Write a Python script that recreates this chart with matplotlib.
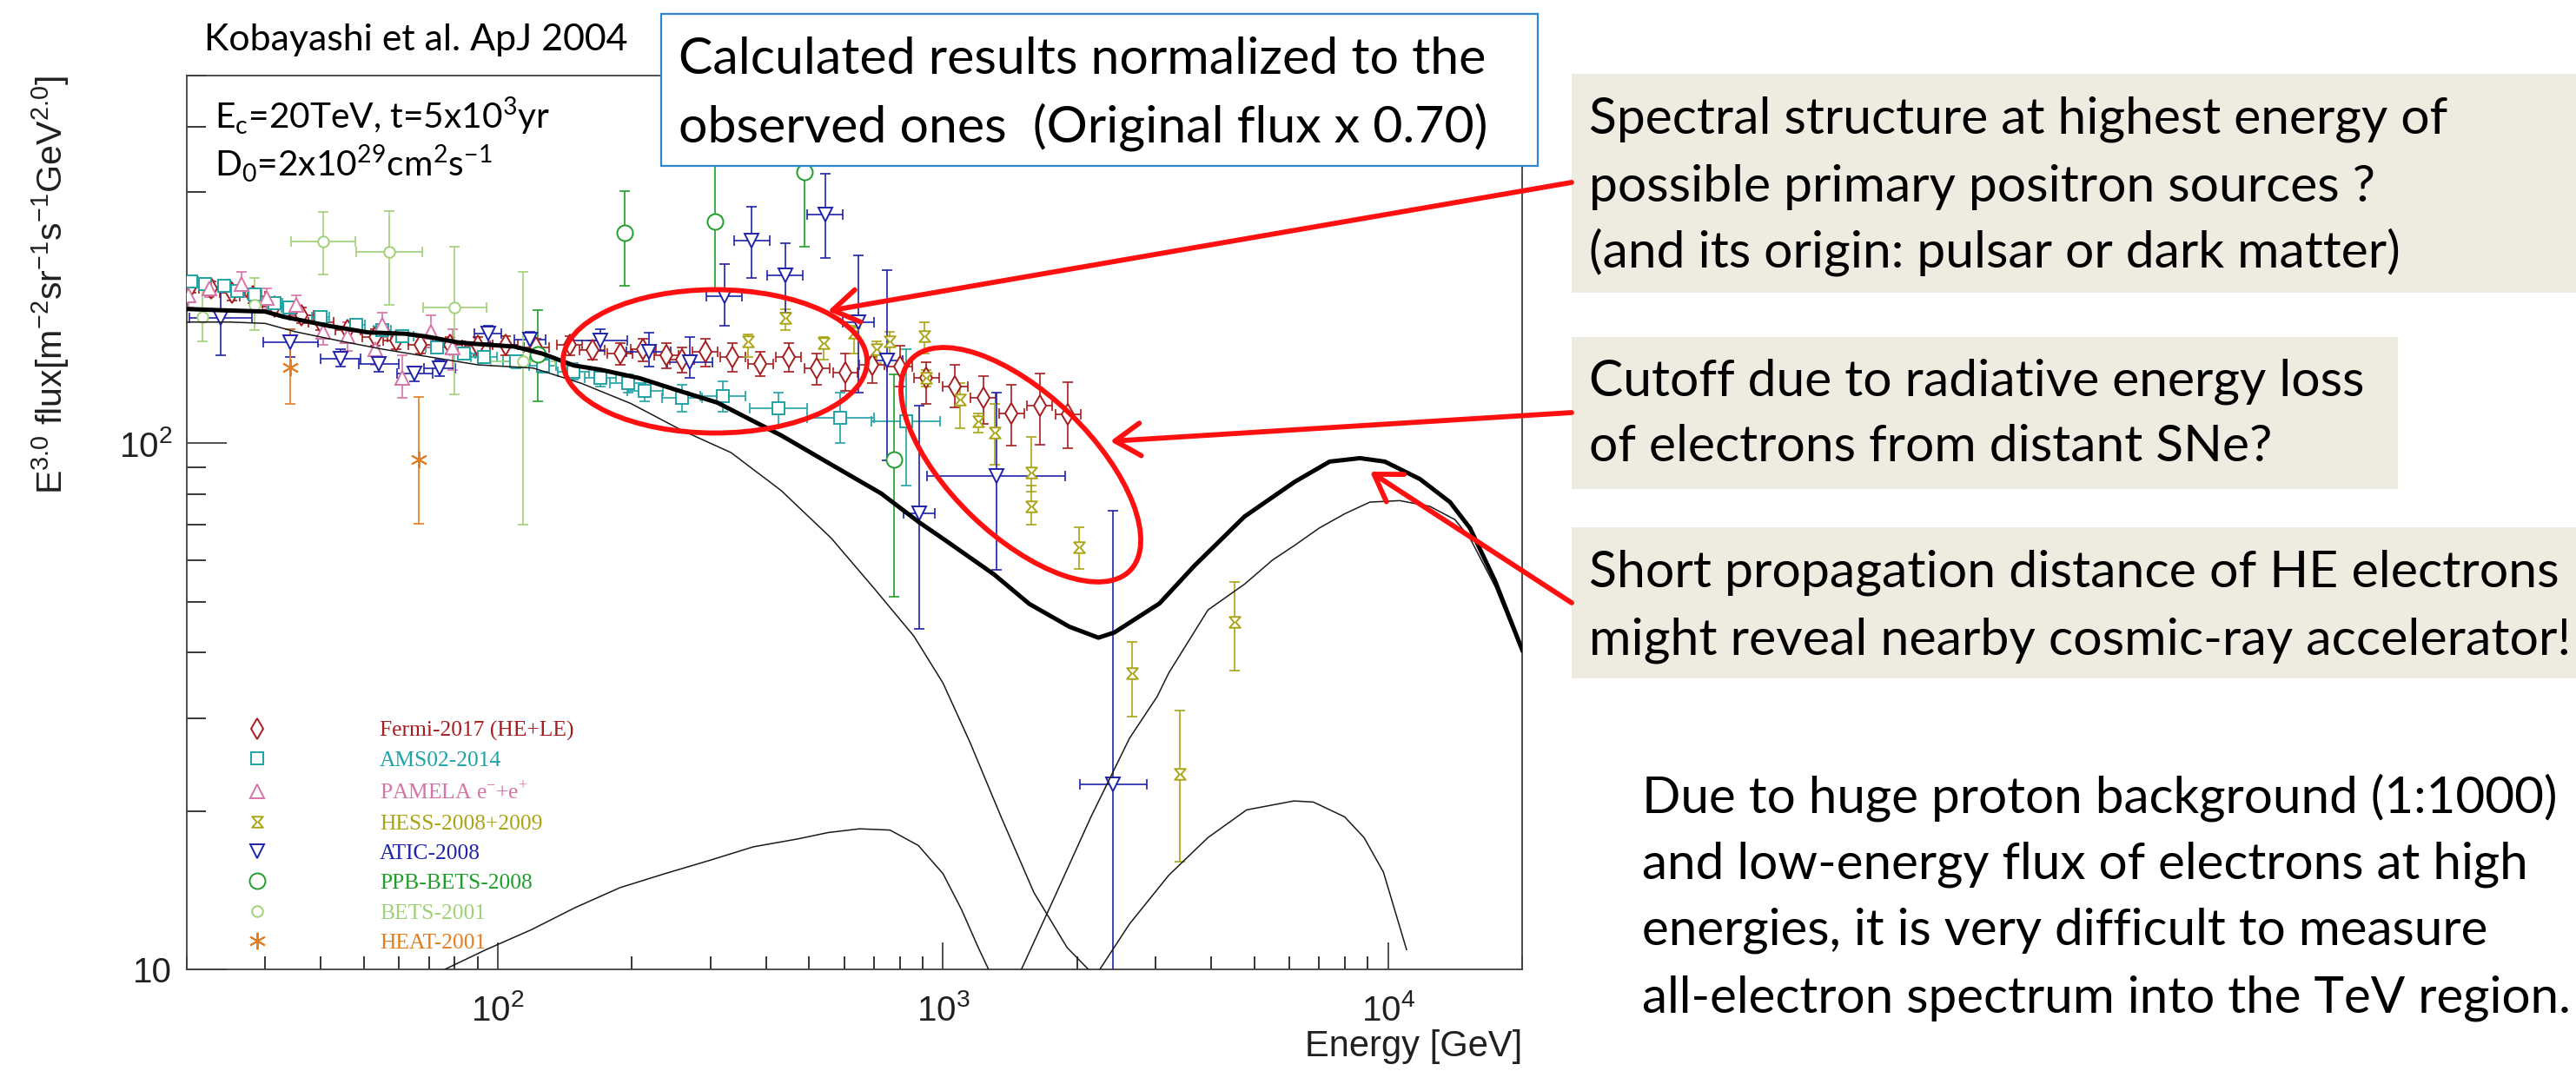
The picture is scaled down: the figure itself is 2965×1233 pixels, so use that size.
import numpy as np
import matplotlib
matplotlib.use("Agg")
import matplotlib.pyplot as plt
from matplotlib.lines import Line2D
from matplotlib.patches import Ellipse, Rectangle
from matplotlib.path import Path
from matplotlib.ticker import FixedLocator, LogLocator, NullFormatter

# ---- model curves: E^3 x flux [m^-2 sr^-1 s^-1 GeV^2], normalized x0.70 ----
total_e = [20, 24, 30, 33, 42, 51, 62, 69, 81, 89, 109, 126, 148, 170, 208, 254, 311,
           433, 561, 726, 883, 1007, 1303, 1563, 1923, 2234, 2427, 3063, 3670, 4760,
           6170, 7390, 8640, 9830, 11790, 13770, 15270, 17380, 20000]
total_y = [180, 179, 178, 174, 167, 162.5, 161.5, 159.6, 155.6, 154.5, 152.7, 148, 140.6,
           138, 133, 126, 119.5, 103.5, 91.1, 80.3, 70.8, 65.6, 56.3, 49.5, 44.8, 42.7,
           43.7, 49.6, 58.5, 72.6, 84.5, 92.3, 93.7, 92.3, 85.5, 77.3, 69, 54.8, 40.5]

distant_e = [20, 25, 30, 35, 45, 55, 70, 90, 120, 154, 199, 258, 334, 433, 561, 700,
             860, 1000, 1150, 1350, 1600, 1900, 2250]
distant_y = [170, 170, 169, 163, 156, 151, 146, 141, 139, 130, 119, 106, 96, 81.3, 66,
             53, 43, 35, 27, 19.5, 14, 11, 9.5]

low_src_e = [76, 94, 119, 149, 188, 237, 298, 375, 472, 552, 650, 760, 880, 1000, 1100,
             1200, 1280]
low_src_y = [10, 10.9, 11.9, 13.1, 14.3, 15.2, 16.1, 17.1, 17.7, 18.2, 18.5, 18.4, 17.2,
             15.2, 13, 11, 9.8]

near_src_e = [1500, 1800, 2150, 2624, 3027, 3215, 3936, 4760, 5500, 6170, 7000, 8000,
              9100, 10620, 12400, 14130, 15270, 17380, 20000]
near_src_y = [10, 14, 19.5, 27.5, 33, 36.6, 48.2, 54, 60, 64, 69, 73.5, 77.3, 77.8,
              75.9, 71.6, 66, 53.5, 40]

mid_src_e = [2250, 2624, 3215, 3936, 4810, 6140, 6790, 7980, 8830, 9760, 11000]
mid_src_y = [10, 12.2, 15.1, 17.8, 20.1, 20.9, 20.8, 19.5, 17.8, 15.3, 10.9]

# ---- measurements ----
fermi_e = [20.5, 22.7, 25.3, 28.1, 31.5, 36.2, 40, 46, 53, 59, 67, 78, 90, 104, 122, 145,
           163, 188, 212, 239, 259, 292, 337, 389, 450, 521, 603, 692, 800, 918, 1064,
           1231, 1425, 1648, 1908]
fermi_y = [199, 197, 193, 190.6, 182, 175, 170, 164, 159, 156.6, 153.6, 153.6, 153, 153.6,
           152, 153.6, 150.6, 148, 150.7, 147, 144, 149, 146, 141.6, 146, 139, 136.4, 141,
           140, 133, 128, 122, 114, 118, 113.5]
fermi_lo = [193, 191, 187, 185, 176, 169, 164, 158, 153, 151, 148, 148, 147, 147, 146, 147,
            144, 141, 143, 139, 136, 140, 137, 134, 137, 129, 126, 130, 128, 119, 117, 109,
            99, 99.3, 98]
fermi_hi = [205, 203, 199, 196, 188, 181, 176, 170, 165, 162, 159, 159, 159, 160, 158, 160,
            157, 155, 158, 155, 152, 158, 155, 149, 155, 148, 148, 146, 153, 142.6, 141,
            134, 129, 135.5, 130.6]
fermi_xw = 0.028

ams_e = [20.5, 22, 24.3, 26, 28.4, 31.5, 34, 40, 48, 55, 61, 73, 84, 93, 110, 126, 148,
         170, 196, 214, 259, 320, 427, 588, 825]
ams_y = [203, 201, 199, 195, 191.6, 184.5, 181, 174, 168, 164, 160, 152, 148, 146, 143,
         140.6, 137, 133, 130, 126, 122, 123, 116.4, 112, 110]
ams_lo = [199, 197, 195, 191, 188, 181, 177, 170, 164, 160, 156, 148, 144, 142, 139, 136,
          132, 128, 125, 120, 115, 115, 108, 100, 83]
ams_hi = [207, 205, 203, 199, 195, 188, 185, 178, 172, 168, 164, 156, 152, 150, 147, 145,
          142, 138, 135, 132, 129, 131, 125, 125, 151]
ams_xw = [0.015, 0.015, 0.015, 0.015, 0.015, 0.017, 0.017, 0.02, 0.02, 0.02, 0.025, 0.025,
          0.025, 0.03, 0.03, 0.03, 0.035, 0.035, 0.04, 0.04, 0.045, 0.05, 0.064, 0.075,
          0.077]

pamela_e = [20.2, 22.5, 26.5, 30.3, 35.2, 40.5, 46, 53, 55, 61, 70.6, 79]
pamela_y = [191, 197, 201, 189, 183, 163, 160, 151, 168, 133, 163, 152]
pamela_lo = [181, 190, 190, 180, 175, 154, 150, 141, 159, 122, 152, 138]
pamela_hi = [200, 204, 212, 197, 191, 172, 170, 162, 177, 147, 175, 165]

hess_e = [365, 443, 540, 630, 710, 760, 910, 918, 1090, 1198, 1305, 1575, 1575, 2024,
          2655, 3410, 4515]
hess_y = [156, 173, 155, 162, 151, 156, 160, 133, 121, 110, 105, 88, 76, 63.5, 36.6,
          23.5, 45.7]
hess_lo = [146, 164, 144, 148, 142, 148, 148, 128, 107, 105, 91, 81, 70, 57.7, 30.2, 16,
           37]
hess_hi = [161, 180, 159, 167, 156, 163, 170, 138, 130, 114, 119, 103, 83, 69.3, 42, 31,
           54.6]

atic_e = [23.8, 34.2, 44.3, 54, 65, 74, 95, 118, 170, 218, 270, 323, 372, 442, 544, 646,
          748, 883, 1318, 2410]
atic_y = [173, 155.6, 145, 141.6, 135.5, 139, 161.6, 157.4, 156.6, 149, 142.5, 190.5, 243,
          208.6, 272, 170, 143.6, 73.5, 86.5, 22.5]
atic_lo = [147, 146, 140, 137, 131, 134, 155, 151, 150, 140, 133, 167, 206, 177, 225, 125,
           92.7, 44.3, 57.4, 5]
atic_hi = [197, 165, 151, 146, 140, 144, 167, 163, 165, 162, 159, 219, 282, 240, 325, 228,
           213, 118, 125, 74.5]
atic_xw = [0.07, 0.062, 0.045, 0.045, 0.04, 0.035, 0.03, 0.035, 0.06, 0.05, 0.05, 0.04,
           0.04, 0.04, 0.04, 0.035, 0.035, 0.035, 0.155, 0.075]

ppb_e = [123, 193, 308, 488, 775]
ppb_y = [147.5, 251, 264, 328, 93]
ppb_lo = [120, 199, 195, 236, 51]
ppb_hi = [179, 302, 345, 345, 135]

bets_e = [21.7, 28.4, 40.5, 57, 80, 114]
bets_y = [174, 183, 242, 231.5, 181, 143]
bets_lo = [156, 164, 209.5, 183, 124, 70]
bets_hi = [206, 206, 275, 276, 236, 212]
bets_xw = [0, 0, 0.073, 0.074, 0.072, 0.072]

heat_e = [34.1, 66.5]
heat_y = [139.5, 93]
heat_lo = [119, 70.4]
heat_hi = [165, 122.7]

legend_labels = ["Fermi-2017 (HE+LE)", "AMS02-2014",
                 r"PAMELA e$^{\mathregular{-}}$+e$^{\mathregular{+}}$",
                 "HESS-2008+2009", "ATIC-2008", "PPB-BETS-2008", "BETS-2001", "HEAT-2001"]

# ---- styling ----
W, H = 2965, 1233
ROOT_FONT = "Liberation Sans"
SERIF = "Liberation Serif"
SLIDE = "Lato"
plt.rcParams["font.family"] = [ROOT_FONT, "DejaVu Sans"]

C_FERMI, C_AMS, C_PAM = "#a51d1d", "#1fa3a6", "#d873a8"
C_HESS, C_ATIC, C_PPB = "#aaa414", "#1f22aa", "#1f9e2a"
C_BETS, C_HEAT = "#9fd178", "#e47d1f"
HOURGLASS = Path([(-1, 1), (1, 1), (0.15, 0), (1, -1), (-1, -1), (-0.15, 0), (-1, 1)],
                 closed=True)

fig = plt.figure(figsize=(W / 100, H / 100), dpi=100, facecolor="white")
renderer = fig.canvas.get_renderer()


def rect_px(x0, y0, x1, y1):
    return [x0 / W, 1 - y1 / H, (x1 - x0) / W, (y1 - y0) / H]


def fit(t, width, vertical=False):
    bb = t.get_window_extent(renderer)
    t.set_fontsize(t.get_fontsize() * width / (bb.height if vertical else bb.width))


ax = fig.add_axes(rect_px(215, 87, 1752, 1116))
ax.set_xscale("log")
ax.set_yscale("log")
ax.set_xlim(20, 20000)
ax.set_ylim(10, 500)


def draw_set(e, y, lo, hi, xw, color, marker, ms):
    e = np.asarray(e, float)
    y = np.asarray(y, float)
    w = np.broadcast_to(np.asarray(xw, float), e.shape)
    yerr = [y - np.asarray(lo, float), np.asarray(hi, float) - y]
    xerr = [e - e / 10 ** w, e * 10 ** w - e]
    ax.errorbar(e, y, yerr=yerr, xerr=xerr, fmt="none", ecolor=color, elinewidth=1.2,
                capsize=4, capthick=1.2, zorder=3)
    ax.plot(e, y, ls="none", marker=marker, ms=ms, mfc="white", mec=color, mew=1.4,
            zorder=3.1)


sets = [
    (fermi_e, fermi_y, fermi_lo, fermi_hi, fermi_xw, C_FERMI, "d", 12),
    (ams_e, ams_y, ams_lo, ams_hi, ams_xw, C_AMS, "s", 10),
    (pamela_e, pamela_y, pamela_lo, pamela_hi, 0, C_PAM, "^", 11),
    (hess_e, hess_y, hess_lo, hess_hi, 0, C_HESS, HOURGLASS, 9),
    (atic_e, atic_y, atic_lo, atic_hi, atic_xw, C_ATIC, "v", 11),
    (ppb_e, ppb_y, ppb_lo, ppb_hi, 0, C_PPB, "o", 13),
    (bets_e, bets_y, bets_lo, bets_hi, bets_xw, C_BETS, "o", 9),
    (heat_e, heat_y, heat_lo, heat_hi, 0, C_HEAT, (6, 2, 0), 14),
]
for s in sets:
    draw_set(*s)

for ce, cy in [(distant_e, distant_y), (low_src_e, low_src_y),
               (near_src_e, near_src_y), (mid_src_e, mid_src_y)]:
    ax.plot(ce, cy, color="#1a1a1a", lw=1.1, zorder=4)
ax.plot(total_e, total_y, color="black", lw=3.6, zorder=5)

# axes, ticks
for sp in ax.spines.values():
    sp.set_color("#404040")
    sp.set_linewidth(1.3)
ax.xaxis.set_major_locator(FixedLocator([100, 1000, 10000]))
ax.set_xticklabels([r"$\mathregular{10^{2}}$", r"$\mathregular{10^{3}}$",
                    r"$\mathregular{10^{4}}$"])
ax.xaxis.set_minor_locator(LogLocator(base=10, subs=np.arange(2, 10)))
ax.xaxis.set_minor_formatter(NullFormatter())
ax.yaxis.set_major_locator(FixedLocator([10, 100]))
ax.set_yticklabels(["10", r"$\mathregular{10^{2}}$"])
ax.yaxis.set_minor_locator(LogLocator(base=10, subs=np.arange(2, 10)))
ax.yaxis.set_minor_formatter(NullFormatter())
ax.tick_params(axis="x", which="major", direction="in", length=22, width=1.1, pad=20,
               labelsize=29, colors="#202020")
ax.tick_params(axis="x", which="minor", direction="in", length=11, width=1.1)
ax.tick_params(axis="y", which="major", direction="in", length=33, width=1.1, pad=12,
               labelsize=29, colors="#202020")
ax.tick_params(axis="y", which="minor", direction="in", length=16, width=1.1)

xt = fig.text(1752 / W, 1 - 1205 / H, "Energy [GeV]", ha="right", va="center",
              family=ROOT_FONT, fontsize=30, color="#202020")
fit(xt, 250)
yt = fig.text(58 / W, 1 - 87 / H,
              r"E$^{\mathregular{3.0}}$ flux[m$^{\mathregular{-2}}$sr$^{\mathregular{-1}}$"
              r"s$^{\mathregular{-1}}$GeV$^{\mathregular{2.0}}$]",
              rotation=90, ha="center", va="top", family=ROOT_FONT, fontsize=30,
              color="#202020")
fit(yt, 482, vertical=True)

# legend: markers near 29 GeV, labels from 54 GeV, rows from y=28.4 down to y=11.2
probe = fig.text(0, 0, legend_labels[0], family=SERIF, fontsize=20)
lsize = 20 * 224 / probe.get_window_extent(renderer).width
probe.remove()
fs_px = lsize * 100 / 72
hl = 2.0
x_frac = lambda e: (np.log10(e) - np.log10(20)) / 3.0
y_frac = lambda v: (np.log10(v) - 1.0) / np.log10(50)
ax_w_px = 1537
ax_h_px = 1029
mark_px = x_frac(28.8) * ax_w_px
text_px = x_frac(54.2) * ax_w_px
row_pitch = (y_frac(28.4) - y_frac(11.2)) * ax_h_px / 7
handles = [Line2D([], [], ls="none", marker=s[6], ms=s[7], mfc="white", mec=s[5], mew=1.4)
           for s in sets]


def make_legend(spacing, top_px):
    lg = ax.legend(handles, legend_labels, loc="upper left",
                   bbox_to_anchor=((mark_px - hl * fs_px / 2) / ax_w_px, top_px / ax_h_px),
                   frameon=False, prop={"family": SERIF, "size": lsize},
                   handlelength=hl, handletextpad=(text_px - mark_px - hl * fs_px / 2) / fs_px,
                   labelspacing=spacing, borderpad=0, borderaxespad=0)
    for t, s in zip(lg.get_texts(), sets):
        t.set_color(s[5])
    return lg


leg = make_legend(0.0, y_frac(28.4) * ax_h_px)
fig.canvas.draw()
texts = leg.get_texts()
ys = [0.5 * (t.get_window_extent(renderer).y0 + t.get_window_extent(renderer).y1)
      for t in texts]
pitch0 = (ys[0] - ys[-1]) / 7
first_off = (leg.get_window_extent(renderer).y1 - ys[0])
leg.remove()
leg = make_legend(max(0.0, (row_pitch - pitch0) / fs_px),
                  y_frac(28.4) * ax_h_px + first_off)

# ---- slide overlay (pixel coordinates) ----
ov = fig.add_axes([0, 0, 1, 1], zorder=10)
ov.set_xlim(0, W)
ov.set_ylim(H, 0)
ov.axis("off")
ov.patch.set_alpha(0)


def text_block(x, baselines, lines, ref, width):
    ts = [ov.text(x, b, s, family=SLIDE, fontsize=30, va="baseline", ha="left",
                  color="black")
          for b, s in zip(baselines, lines)]
    fit(ts[ref], width)
    for t in ts:
        t.set_fontsize(ts[ref].get_fontsize())
    return ts


ov.add_patch(Rectangle((761, 16), 1009, 175, fc="white", ec="#2e86d1", lw=1.6))
for y0, y1, x1 in [(85, 337, 2975), (388, 563, 2760), (607, 781, 2975)]:
    ov.add_patch(Rectangle((1809, y0), x1 - 1809, y1 - y0, fc="#eeece1", ec="none"))

text_block(235, [58], ["Kobayashi et al. ApJ 2004"], 0, 487)
text_block(247, [148, 203],
           [r"E$_{\mathregular{c}}$=20TeV, t=5x10$^{\mathregular{3}}$yr",
            r"D$_{\mathregular{0}}$=2x10$^{\mathregular{29}}$cm$^{\mathregular{2}}$"
            r"s$^{\mathregular{-1}}$"],
           0, 386)
text_block(781, [85, 163], ["Calculated results normalized to the",
                            "observed ones  (Original flux x 0.70)"], 0, 929)
text_block(1829, [154, 232, 308], ["Spectral structure at highest energy of",
                                   "possible primary positron sources ?",
                                   "(and its origin: pulsar or dark matter)"], 0, 988)
text_block(1829, [455, 531], ["Cutoff due to radiative energy loss",
                              "of electrons from distant SNe?"], 0, 891)
text_block(1829, [676, 753], ["Short propagation distance of HE electrons",
                              "might reveal nearby cosmic-ray accelerator!"], 1, 1129)
text_block(1890, [935, 1012, 1088, 1165], ["Due to huge proton background (1:1000)",
                                           "and low-energy flux of electrons at high",
                                           "energies, it is very difficult to measure",
                                           "all-electron spectrum into the TeV region."],
           0, 1052)

RED = "#ff1010"
ov.add_patch(Ellipse((823, 416), 350, 165, fill=False, ec=RED, lw=4.2))
ov.add_patch(Ellipse((1175, 535), 350, 163, angle=44, fill=False, ec=RED, lw=4.2))
arrow = dict(arrowstyle="->,head_length=0.7,head_width=0.45", lw=4.2, color=RED,
             shrinkA=0, shrinkB=0, mutation_scale=30)
for tail, tip in [((1809, 210), (953, 358)), ((1809, 475), (1278, 508)),
                  ((1809, 694), (1577, 543))]:
    ov.annotate("", xy=tip, xytext=tail, arrowprops=arrow)

fig.savefig("out.png", dpi=100, facecolor="white")
